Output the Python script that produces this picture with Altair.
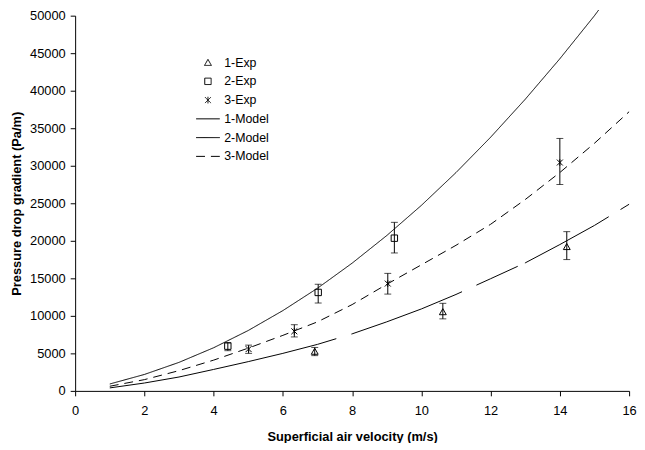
import altair as alt
import pandas as pd

series_names = ["1-Exp", "2-Exp", "3-Exp", "1-Model", "2-Model", "3-Model"]

# Experimental data (velocity, pressure drop gradient, error bar low/high)
exp1_v = [6.92, 10.62, 14.2]
exp1_p = [5260, 10530, 19210]
exp1_lo = [4700, 9600, 17500]
exp1_hi = [5790, 11670, 21220]

exp2_v = [4.41, 7.02, 9.22]
exp2_p = [5960, 13120, 20350]
exp2_lo = [5360, 11710, 18380]
exp2_hi = [6450, 14210, 22460]

exp3_v = [5.01, 6.33, 9.03, 14.0]
exp3_p = [5570, 7940, 14300, 30430]
exp3_lo = [5000, 7190, 12900, 27500]
exp3_hi = [6100, 8820, 15660, 33640]

# Model curves
model1_v = [1, 2, 3, 4, 5, 6, 7, 8, 9, 10, 11, 12, 13, 14, 15, 16]
model1_p = [400, 1050, 1850, 2860, 3900, 5000, 6200, 7600, 9200, 10920,
            12850, 14950, 17060, 19500, 22050, 24870]
model2_v = [1, 2, 3, 4, 5, 6, 7, 8, 9, 10, 11, 12, 13, 14, 15, 15.12]
model2_p = [920, 2190, 3800, 5750, 8050, 10700, 13680, 17020, 20700, 24720,
            29090, 33800, 38860, 44260, 50000, 50750]
model3_v = [1, 2, 3, 4, 5, 6, 7, 8, 9, 10, 11, 12, 13, 14, 15, 16]
model3_p = [620, 1500, 2700, 4100, 5700, 7400, 9200, 11500, 14200, 16800,
            19400, 22200, 25500, 29100, 33000, 37200]

x_ticks = [0, 2, 4, 6, 8, 10, 12, 14, 16]
y_ticks = [0, 5000, 10000, 15000, 20000, 25000, 30000, 35000, 40000, 45000, 50000]

exp_rows = []
for name, vs, ps, los, his in [
    ("1-Exp", exp1_v, exp1_p, exp1_lo, exp1_hi),
    ("2-Exp", exp2_v, exp2_p, exp2_lo, exp2_hi),
    ("3-Exp", exp3_v, exp3_p, exp3_lo, exp3_hi),
]:
    for v, p, lo, hi in zip(vs, ps, los, his):
        exp_rows.append({"series": name, "v": v, "p": p, "lo": lo, "hi": hi})
exp_df = pd.DataFrame(exp_rows)

model_rows = []
for name, vs, ps in [
    ("1-Model", model1_v, model1_p),
    ("2-Model", model2_v, model2_p),
    ("3-Model", model3_v, model3_p),
]:
    for i, (v, p) in enumerate(zip(vs, ps)):
        model_rows.append({"series": name, "v": v, "p": p, "order": i})
model_df = pd.DataFrame(model_rows)

FONT = "Liberation Sans"
# small marker outlines drawn inside a 24px symbol box
TRIANGLE = "M0,-0.27L0.29,0.24L-0.29,0.24Z"
SQUARE = "M-0.27,-0.27H0.27V0.27H-0.27Z"
ASTERISK = "M-0.25,-0.25L0.25,0.25M-0.25,0.25L0.25,-0.25M0,-0.28L0,0.28"
SYM = 576

legend = alt.Legend(
    orient="none", legendX=122, legendY=35, title=None,
    labelFont=FONT, labelFontSize=12.5, labelColor="black", labelOffset=4,
    rowPadding=-5, symbolStrokeWidth=1, symbolStrokeColor="black",
    symbolSize=SYM,
)

shape_scale = alt.Scale(domain=series_names,
                        range=[TRIANGLE, SQUARE, ASTERISK, "stroke", "stroke", "stroke"])
dash_scale = alt.Scale(domain=series_names,
                       range=[[1, 0], [1, 0], [1, 0],
                              [235, 16, 120, 16, 46, 8, 97, 14, 600, 0],
                              [1, 0], [9, 6]])

x_scale = alt.Scale(domain=[0, 16], nice=False)
y_scale = alt.Scale(domain=[0, 50000], nice=False)
x_axis = alt.Axis(values=x_ticks, format="d", labelOverlap=False, labelFlush=False,
                  title="Superficial air velocity (m/s)")
y_axis = alt.Axis(values=y_ticks, format="d", labelOverlap=False, labelFlush=False,
                  title="Pressure drop gradient (Pa/m)")


def X(field):
    return alt.X(field, scale=x_scale, axis=x_axis)


def Y(field):
    return alt.Y(field, scale=y_scale, axis=y_axis)


lines = alt.Chart(model_df).mark_line(color="black", strokeWidth=1).encode(
    x=X("v:Q"), y=Y("p:Q"),
    strokeDash=alt.StrokeDash("series:N", scale=dash_scale, legend=legend),
    detail="series:N",
    order="order:Q",
)

rules = alt.Chart(exp_df).mark_rule(color="black", strokeWidth=1).encode(
    x=X("v:Q"), y=Y("lo:Q"), y2="hi:Q"
)
caps_lo = alt.Chart(exp_df).mark_tick(color="black", orient="horizontal", size=7, thickness=1).encode(
    x=X("v:Q"), y=Y("lo:Q")
)
caps_hi = alt.Chart(exp_df).mark_tick(color="black", orient="horizontal", size=7, thickness=1).encode(
    x=X("v:Q"), y=Y("hi:Q")
)

points = alt.Chart(exp_df).mark_point(filled=False, color="black", strokeWidth=1,
                                      opacity=1, size=SYM).encode(
    x=X("v:Q"), y=Y("p:Q"),
    shape=alt.Shape("series:N", scale=shape_scale, legend=legend),
)

chart = alt.layer(lines, rules, caps_lo, caps_hi, points).properties(
    width=561, height=380,
    padding={"left": 68, "top": 5, "right": 8, "bottom": 50},
    autosize=alt.AutoSizeParams(type="none"),
).configure_view(stroke=None).configure_axis(
    grid=False, domainColor="black", tickColor="black", tickSize=5,
    labelFont=FONT, labelFontSize=13, labelColor="black",
    titleFont=FONT, titleFontSize=13, titleFontWeight="bold", titleColor="black",
).configure_axisX(labelPadding=9, titlePadding=13).configure_axisY(
    labelPadding=5, titlePadding=6
)

chart.save("out.html", embed_options={"renderer": "svg", "actions": False})
